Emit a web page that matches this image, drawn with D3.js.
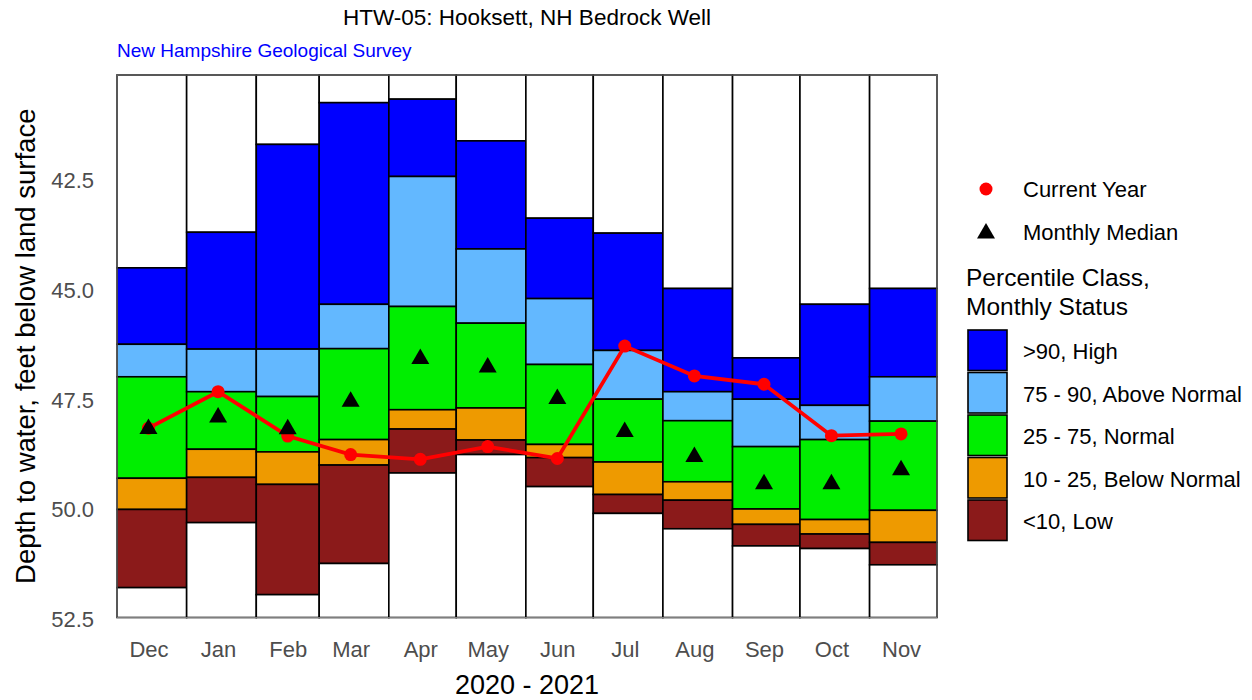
<!DOCTYPE html>
<html>
<head>
<meta charset="utf-8">
<script src="https://cdn.jsdelivr.net/npm/d3@7"></script>
<style>
  body { margin: 0; background: #fff; }
  text { font-family: "Liberation Sans", Arial, sans-serif; }
</style>
</head>
<body>
<div id="chart"></div>
<script>
// month labels and first day of each month
var months = ['Dec', 'Jan', 'Feb', 'Mar', 'Apr', 'May', 'Jun', 'Jul', 'Aug', 'Sep', 'Oct', 'Nov'];
var month_starts = ['2020-12-01', '2021-01-01', '2021-02-01', '2021-03-01', '2021-04-01', '2021-05-01',
  '2021-06-01', '2021-07-01', '2021-08-01', '2021-09-01', '2021-10-01', '2021-11-01'];

// percentile class boundaries (depth, ft): record min, p90, p75, p25, p10, record max
var p_min = [44.49, 43.68, 41.68, 40.73, 40.65, 41.60, 43.36, 43.70, 44.96, 46.54, 45.32, 44.96];
var p90   = [46.23, 46.34, 46.34, 45.32, 42.41, 44.06, 45.19, 46.37, 47.31, 47.48, 47.62, 46.97];
var p75   = [46.97, 47.31, 47.42, 46.33, 45.37, 45.75, 46.69, 47.48, 47.97, 48.56, 48.40, 47.98];
var p25   = [49.28, 48.62, 48.68, 48.40, 47.72, 47.68, 48.51, 48.91, 49.36, 49.98, 50.22, 50.01];
var p10   = [49.99, 49.26, 49.42, 48.98, 48.16, 48.41, 48.81, 49.65, 49.78, 50.33, 50.55, 50.74];
var p_max = [51.77, 50.29, 51.93, 51.22, 49.16, 48.74, 49.47, 50.08, 50.43, 50.82, 50.88, 51.25];

var current_year = [48.14, 47.31, 48.32, 48.74, 48.85, 48.56, 48.83, 46.27, 46.95, 47.14, 48.31, 48.27];
var monthly_median = [48.10, 47.84, 48.11, 47.48, 46.51, 46.70, 47.42, 48.17, 48.74, 49.36, 49.36, 49.04];

var y_ticks = [42.5, 45.0, 47.5, 50.0, 52.5];

var class_labels = ['>90, High', '75 - 90, Above Normal', '25 - 75, Normal', '10 - 25, Below Normal', '<10, Low'];
var class_colors = ['#0000FF', '#63B8FF', '#00EE00', '#EE9A00', '#8B1A1A'];

var chart_width = 1252;
var chart_height = 700;
var plot_left = 117, plot_right = 937, plot_top = 75, plot_bottom = 617.5;

var parse = d3.timeParse('%Y-%m-%d');
var starts = month_starts.map(parse);
var end_date = d3.timeMonth.offset(starts[starts.length - 1], 1);

var svg = d3.select('#chart')
  .append('svg')
  .attr('width', chart_width)
  .attr('height', chart_height);

var x_scale = d3.scaleTime()
  .domain([starts[0], end_date])
  .range([plot_left, plot_right]);

var y_scale = d3.scaleLinear()
  .domain([40.1, 52.45])
  .range([plot_top, plot_bottom]);

var y_lo = y_scale.domain()[0], y_hi = y_scale.domain()[1];

// build the boxes: one rect per month per segment
var boxes = [];
months.forEach(function(m, i) {
  var x0 = starts[i];
  var x1 = d3.timeMonth.offset(starts[i], 1);
  var edges = [y_lo, p_min[i], p90[i], p75[i], p25[i], p10[i], p_max[i], y_hi];
  var fills = ['#FFFFFF'].concat(class_colors).concat(['#FFFFFF']);
  for (var k = 0; k < 7; k++) {
    boxes.push({x0: x0, x1: x1, y0: edges[k], y1: edges[k + 1], fill: fills[k]});
  }
});

svg.append('g')
  .selectAll('rect')
  .data(boxes)
  .enter()
  .append('rect')
  .attr('x', function(d) { return x_scale(d.x0); })
  .attr('y', function(d) { return y_scale(d.y0); })
  .attr('width', function(d) { return x_scale(d.x1) - x_scale(d.x0); })
  .attr('height', function(d) { return y_scale(d.y1) - y_scale(d.y0); })
  .attr('fill', function(d) { return d.fill; })
  .attr('stroke', '#000')
  .attr('stroke-width', 1.6);

// plot border
svg.append('rect')
  .attr('x', plot_left)
  .attr('y', plot_top)
  .attr('width', plot_right - plot_left)
  .attr('height', plot_bottom - plot_top)
  .attr('fill', 'none')
  .attr('stroke', '#7f7f7f')
  .attr('stroke-width', 1);

// mid-month points
var mid = starts.map(function(d) { return d3.timeDay.offset(d, 14); });

var line = d3.line()
  .x(function(d, i) { return x_scale(mid[i]); })
  .y(function(d) { return y_scale(d); });

svg.append('path')
  .datum(current_year)
  .attr('d', line)
  .attr('fill', 'none')
  .attr('stroke', '#FF0000')
  .attr('stroke-width', 3.8);

svg.append('g')
  .selectAll('circle')
  .data(current_year)
  .enter()
  .append('circle')
  .attr('cx', function(d, i) { return x_scale(mid[i]); })
  .attr('cy', function(d) { return y_scale(d); })
  .attr('r', 6.5)
  .attr('fill', '#FF0000');

var tri = 'M0,-8 L9,7.5 L-9,7.5 Z';

svg.append('g')
  .selectAll('path')
  .data(monthly_median)
  .enter()
  .append('path')
  .attr('d', tri)
  .attr('transform', function(d, i) {
    return 'translate(' + x_scale(mid[i]) + ',' + y_scale(d) + ')';
  })
  .attr('fill', '#000');

// axes (labels only, no tick marks)
var x_axis = d3.axisBottom(x_scale)
  .tickValues(mid)
  .tickFormat(function(d, i) { return months[i]; })
  .tickSize(0)
  .tickPadding(0);

svg.append('g')
  .attr('transform', 'translate(0,' + (plot_bottom + 24) + ')')
  .call(x_axis)
  .call(function(g) { g.select('.domain').remove(); })
  .selectAll('text')
  .attr('font-size', 22)
  .attr('fill', '#4d4d4d')
  .attr('font-family', '"Liberation Sans", Arial, sans-serif');

var y_axis = d3.axisLeft(y_scale)
  .tickValues(y_ticks)
  .tickFormat(d3.format('.1f'))
  .tickSize(0)
  .tickPadding(0);

svg.append('g')
  .attr('transform', 'translate(' + (plot_left - 23) + ',0)')
  .call(y_axis)
  .call(function(g) { g.select('.domain').remove(); })
  .selectAll('text')
  .attr('font-size', 22)
  .attr('fill', '#4d4d4d')
  .attr('font-family', '"Liberation Sans", Arial, sans-serif');

// titles
svg.append('text')
  .text('HTW-05: Hooksett, NH Bedrock Well')
  .attr('x', (plot_left + plot_right) / 2)
  .attr('y', 25)
  .attr('text-anchor', 'middle')
  .attr('font-size', 22.5)
  .attr('fill', '#000');

svg.append('text')
  .text('New Hampshire Geological Survey')
  .attr('x', plot_left)
  .attr('y', 57)
  .attr('font-size', 19)
  .attr('fill', '#0000FF');

svg.append('text')
  .text('2020 - 2021')
  .attr('x', (plot_left + plot_right) / 2)
  .attr('y', 694)
  .attr('text-anchor', 'middle')
  .attr('font-size', 27)
  .attr('fill', '#000');

svg.append('text')
  .text('Depth to water, feet below land surface')
  .attr('transform', 'translate(35,' + ((plot_top + plot_bottom) / 2) + ') rotate(-90)')
  .attr('text-anchor', 'middle')
  .attr('font-size', 27.5)
  .attr('fill', '#000');

// legend
var legend = svg.append('g');

legend.append('circle')
  .attr('cx', 986).attr('cy', 189).attr('r', 6.5)
  .attr('fill', '#FF0000');
legend.append('text')
  .text('Current Year')
  .attr('x', 1023).attr('y', 197)
  .attr('font-size', 22);

legend.append('path')
  .attr('d', tri)
  .attr('transform', 'translate(986,231)')
  .attr('fill', '#000');
legend.append('text')
  .text('Monthly Median')
  .attr('x', 1023).attr('y', 240)
  .attr('font-size', 22);

legend.append('text')
  .text('Percentile Class,')
  .attr('x', 966).attr('y', 286)
  .attr('font-size', 24.5);
legend.append('text')
  .text('Monthly Status')
  .attr('x', 966).attr('y', 315)
  .attr('font-size', 24.5);

var key = legend.selectAll('g.key')
  .data(class_labels)
  .enter()
  .append('g')
  .attr('class', 'key')
  .attr('transform', function(d, i) { return 'translate(968,' + (330 + i * 42.5) + ')'; });

key.append('rect')
  .attr('width', 39)
  .attr('height', 40.5)
  .attr('fill', function(d, i) { return class_colors[i]; })
  .attr('stroke', '#000')
  .attr('stroke-width', 1.6);

key.append('text')
  .text(function(d) { return d; })
  .attr('x', 55)
  .attr('y', 29)
  .attr('font-size', 22);
</script>
</body>
</html>
